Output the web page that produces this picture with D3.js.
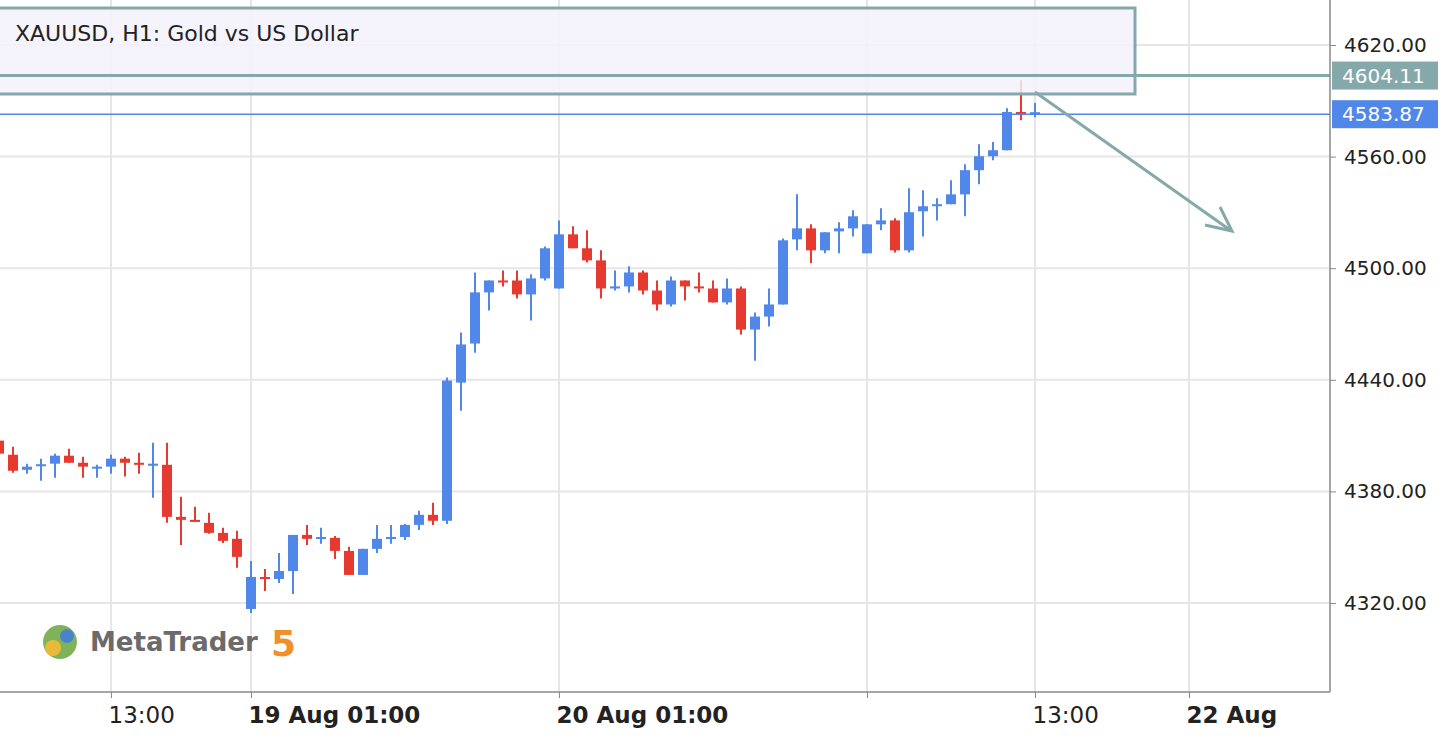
<!DOCTYPE html>
<html>
<head>
<meta charset="utf-8">
<script src="https://cdn.jsdelivr.net/npm/d3@7"></script>
<style>
  body { margin: 0; background: #fff; }
  svg { display: block; font-family: "DejaVu Sans", sans-serif; }
</style>
</head>
<body>
<svg id="chart" width="1442" height="740"></svg>
<script>
// hourly candles, [open, high, low, close]
var candles = [
  [4407.3, 4408.3, 4399.2, 4400.3], [4399.7, 4404.0, 4390.0, 4391.1], [4391.6, 4394.9, 4389.5, 4393.3],
  [4394.3, 4397.6, 4385.7, 4394.6], [4394.9, 4400.3, 4387.3, 4399.2], [4399.2, 4402.9, 4395.4, 4395.4],
  [4395.4, 4398.6, 4387.3, 4393.3], [4392.7, 4394.3, 4387.3, 4393.3], [4393.3, 4399.7, 4389.5, 4397.6],
  [4397.6, 4398.6, 4388.0, 4395.4], [4395.4, 4400.8, 4389.5, 4394.3], [4393.8, 4406.2, 4376.6, 4394.9],
  [4394.3, 4406.2, 4363.1, 4366.3], [4366.3, 4377.1, 4351.2, 4364.7], [4364.7, 4371.7, 4363.6, 4363.6],
  [4363.1, 4368.5, 4357.2, 4357.7], [4357.7, 4360.4, 4352.3, 4353.4], [4354.5, 4358.8, 4338.9, 4344.8],
  [4316.8, 4342.6, 4314.6, 4334.0], [4334.0, 4338.3, 4326.5, 4332.9], [4332.9, 4346.9, 4330.8, 4337.2],
  [4337.2, 4356.6, 4324.8, 4356.6], [4356.6, 4362.0, 4351.2, 4354.5], [4354.4, 4360.4, 4351.8, 4355.5],
  [4355.0, 4356.0, 4343.7, 4348.0], [4348.0, 4350.2, 4335.1, 4335.1], [4335.1, 4349.1, 4335.1, 4349.1],
  [4349.1, 4362.0, 4346.9, 4354.5], [4355.0, 4362.0, 4351.8, 4355.5], [4355.5, 4362.5, 4353.9, 4362.0],
  [4362.0, 4369.6, 4359.3, 4367.4], [4367.4, 4373.9, 4362.0, 4364.2], [4364.2, 4441.2, 4362.5, 4439.6],
  [4438.5, 4465.4, 4423.4, 4459.0], [4459.5, 4497.7, 4454.6, 4487.0], [4487.0, 4493.4, 4477.3, 4493.4],
  [4493.4, 4498.8, 4490.2, 4492.4], [4493.4, 4498.8, 4483.7, 4485.9], [4485.9, 4496.7, 4471.9, 4494.5],
  [4494.5, 4511.7, 4493.4, 4510.7], [4489.1, 4525.7, 4489.1, 4518.2], [4518.2, 4522.5, 4510.7, 4510.7],
  [4510.7, 4520.4, 4503.1, 4504.2], [4504.2, 4509.6, 4483.7, 4489.1], [4489.1, 4498.8, 4488.0, 4490.2],
  [4490.2, 4501.0, 4487.0, 4497.7], [4497.7, 4498.8, 4485.9, 4488.0], [4488.0, 4493.4, 4477.3, 4480.5],
  [4480.5, 4495.6, 4479.4, 4493.4], [4493.4, 4493.4, 4482.7, 4490.2], [4490.2, 4497.7, 4487.0, 4489.7],
  [4489.1, 4493.4, 4481.6, 4481.6], [4481.6, 4494.5, 4480.5, 4489.1], [4489.1, 4490.2, 4464.3, 4467.0],
  [4467.0, 4476.2, 4450.3, 4474.0], [4474.0, 4489.1, 4468.7, 4480.5], [4480.5, 4516.0, 4480.5, 4515.0],
  [4515.5, 4539.7, 4509.6, 4521.4], [4521.4, 4523.6, 4502.6, 4509.6], [4509.6, 4519.3, 4508.0, 4519.3],
  [4519.8, 4524.7, 4508.0, 4521.4], [4521.4, 4531.1, 4517.1, 4527.9], [4508.0, 4523.6, 4508.0, 4523.6],
  [4523.6, 4532.2, 4520.4, 4525.7], [4525.7, 4526.8, 4508.5, 4509.6], [4509.6, 4543.0, 4508.5, 4530.1],
  [4530.6, 4541.9, 4517.1, 4533.3], [4533.8, 4537.6, 4525.7, 4534.4], [4534.4, 4547.3, 4534.4, 4539.7],
  [4539.7, 4555.9, 4527.9, 4552.7], [4552.7, 4566.7, 4545.1, 4560.2], [4560.2, 4567.8, 4558.1, 4563.4],
  [4563.4, 4586.0, 4563.4, 4584.0], [4584.0, 4601.1, 4579.6, 4583.0], [4583.0, 4588.8, 4581.2, 4583.87]
];
var priceTicks = [4320, 4380, 4440, 4500, 4560, 4620];
var timeTicks = [
  { i: 8, label: "13:00", bold: false },
  { i: 18, label: "19 Aug 01:00", bold: true },
  { i: 40, label: "20 Aug 01:00", bold: true },
  { i: 62, label: "", bold: false },
  { i: 74, label: "13:00", bold: false },
  { i: 85, label: "22 Aug", bold: true }
];
var lastPrice = 4583.87;
var boxPrice = 4604.11;
var title = "XAUUSD, H1: Gold vs US Dollar";

var svg = d3.select("#chart");
var plotRight = 1330, axisY = 692;

var x = d3.scaleLinear().domain([0, 1]).range([-1, 13]);
var y = d3.scaleLinear().domain([4320, 4620]).range([603, 45]);

// grid
svg.append("g").selectAll("line").data(priceTicks).enter().append("line")
  .attr("x1", 0).attr("x2", plotRight)
  .attr("y1", function (d) { return y(d); }).attr("y2", function (d) { return y(d); })
  .attr("stroke", "#e6e6e6").attr("stroke-width", 2);
svg.append("g").selectAll("line").data(timeTicks).enter().append("line")
  .attr("x1", function (d) { return x(d.i); }).attr("x2", function (d) { return x(d.i); })
  .attr("y1", 0).attr("y2", axisY)
  .attr("stroke", "#e6e6e6").attr("stroke-width", 2);

// logo
var logo = svg.append("g").attr("transform", "translate(40,622)");
logo.append("circle").attr("cx", 20).attr("cy", 20).attr("r", 17).attr("fill", "#7fb35a");
logo.append("circle").attr("cx", 13).attr("cy", 26).attr("r", 8).attr("fill", "#e9b93a");
logo.append("circle").attr("cx", 27).attr("cy", 14).attr("r", 7).attr("fill", "#4a84c8");
svg.append("text").attr("x", 90).attr("y", 651).attr("font-size", 26).attr("font-weight", "bold")
  .attr("fill", "#6b6b6b").text("MetaTrader");
svg.append("text").attr("x", 271).attr("y", 656).attr("font-size", 36).attr("font-weight", "bold")
  .attr("fill", "#f0902a").text("5");

// candles
var g = svg.append("g");
g.selectAll("line").data(candles).enter().append("line")
  .attr("x1", function (d, i) { return x(i); }).attr("x2", function (d, i) { return x(i); })
  .attr("y1", function (d) { return y(d[1]); }).attr("y2", function (d) { return y(d[2]); })
  .attr("stroke", function (d) { return d[3] >= d[0] ? "#5087e8" : "#e6392f"; })
  .attr("stroke-width", 2);
g.selectAll("rect").data(candles).enter().append("rect")
  .attr("x", function (d, i) { return x(i) - 5; }).attr("width", 10)
  .attr("y", function (d) { return y(Math.max(d[0], d[3])); })
  .attr("height", function (d) { return Math.max(2, Math.abs(y(d[0]) - y(d[3]))); })
  .attr("fill", function (d) { return d[3] >= d[0] ? "#5087e8" : "#e6392f"; });

// last price line
svg.append("line").attr("x1", 0).attr("x2", plotRight)
  .attr("y1", y(lastPrice) + 2).attr("y2", y(lastPrice) + 2)
  .attr("stroke", "#5087e8").attr("stroke-width", 1.5);

// drawn rectangle + level
var teal = "#85a9aa";
svg.append("rect").attr("x", -5).attr("y", 8).attr("width", 1140).attr("height", 86)
  .attr("fill", "#f3f1fa").attr("fill-opacity", 0.85).attr("stroke", teal).attr("stroke-width", 3);
svg.append("line").attr("x1", 0).attr("x2", plotRight)
  .attr("y1", y(boxPrice) + 1).attr("y2", y(boxPrice) + 1)
  .attr("stroke", teal).attr("stroke-width", 3);
svg.append("text").attr("x", 15).attr("y", 41).attr("font-size", 22).attr("fill", "#222").text(title);

// arrow
svg.append("line").attr("x1", x(74)).attr("y1", 92).attr("x2", 1230).attr("y2", 230)
  .attr("stroke", teal).attr("stroke-width", 3);
svg.append("path").attr("d", "M1205,225 L1232,231 L1220,207")
  .attr("fill", "none").attr("stroke", teal).attr("stroke-width", 3);

// axes
svg.append("line").attr("x1", 0).attr("x2", plotRight).attr("y1", axisY).attr("y2", axisY)
  .attr("stroke", "#888").attr("stroke-width", 1.5);
svg.append("line").attr("x1", plotRight).attr("x2", plotRight).attr("y1", 0).attr("y2", axisY)
  .attr("stroke", "#888").attr("stroke-width", 1.5);

var ya = svg.append("g").attr("transform", "translate(" + plotRight + ",0)")
  .call(d3.axisRight(y).tickValues(priceTicks).tickSize(6).tickFormat(d3.format(".2f")));
ya.select(".domain").remove();
ya.selectAll("line").attr("stroke", "#888");
ya.selectAll("text").attr("font-size", 20).attr("fill", "#222").attr("x", 14)
  .attr("font-family", "DejaVu Sans");

var xa = svg.append("g").attr("transform", "translate(0," + axisY + ")")
  .call(d3.axisBottom(x).tickValues(timeTicks.map(function (d) { return d.i; })).tickSize(6)
    .tickFormat(function (d) { return timeTicks.find(function (t) { return t.i === d; }).label; }));
xa.select(".domain").remove();
xa.selectAll("line").attr("stroke", "#888");
xa.selectAll("text").attr("font-size", 23).attr("fill", "#222").attr("dy", "0.95em")
  .attr("text-anchor", "start").attr("x", -3)
  .attr("font-family", "DejaVu Sans")
  .attr("font-weight", function (d) { return timeTicks.find(function (t) { return t.i === d; }).bold ? "bold" : "normal"; });

// price labels
function priceLabel(p, fill, dy) {
  var yy = y(p) + dy;
  svg.append("rect").attr("x", plotRight + 2).attr("y", yy - 14).attr("width", 106).attr("height", 28)
    .attr("fill", fill);
  svg.append("text").attr("x", plotRight + 12).attr("y", yy + 7).attr("font-size", 20)
    .attr("fill", "#fff").text(d3.format(".2f")(p));
}
priceLabel(boxPrice, teal, 1);
priceLabel(lastPrice, "#5087e8", 2);
</script>
</body>
</html>
